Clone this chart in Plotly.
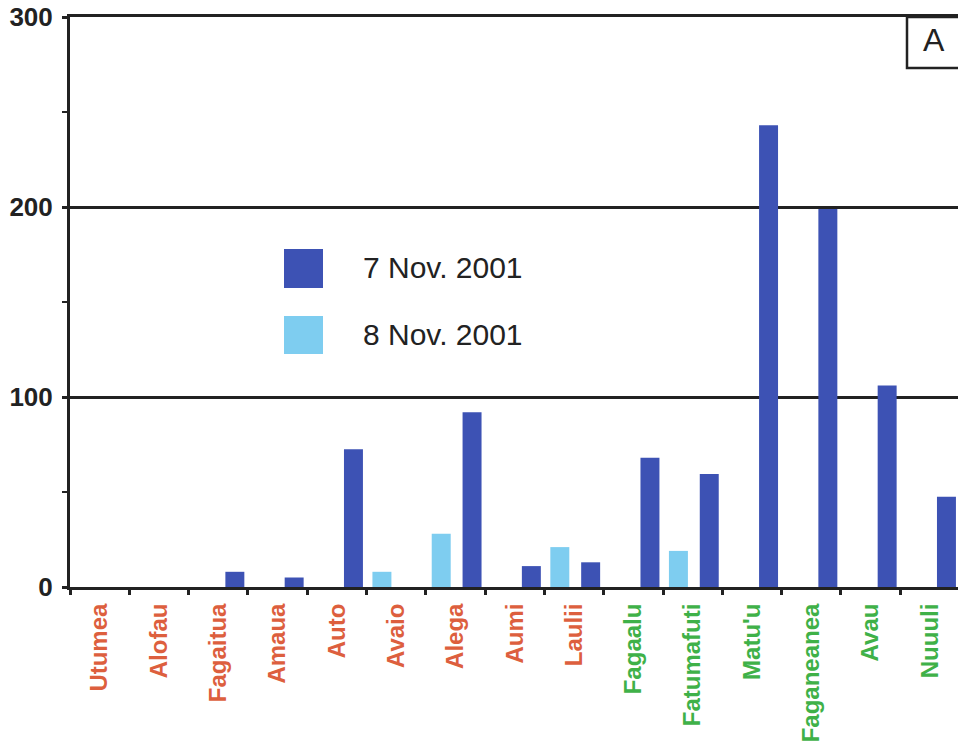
import plotly.graph_objects as go

# Villages along the shore, west side (red labels) then east side (green labels)
villages = ["Utumea", "Alofau", "Fagaitua", "Amaua", "Auto", "Avaio", "Alega",
            "Aumi", "Laulii", "Fagaalu", "Fatumafuti", "Matu'u", "Faganeanea",
            "Avau", "Nuuuli"]
label_colors = ["#dd5f3e"] * 9 + ["#3fb148"] * 6

nov7 = [0, 0, 8, 5, 72.5, 0, 92, 11, 13, 68, 59.5, 243, 199, 106, 47.5]
nov8 = [0, 0, 0, 0, 0, 8, 28, 0, 21, 0, 19, 0, 0, 0, 0]

series_names = ["7 Nov. 2001", "8 Nov. 2001"]
dark_blue = "#3d52b4"
light_blue = "#7ecdf0"

ytick_vals = [0, 100, 200, 300]

W, H = 958, 752
ML, MT, MB, MR = 70, 17, 165, 0
plot_w = W - ML - MR
slot_px = 59.3

fig = go.Figure()
fig.add_trace(go.Bar(x=villages, y=nov8, name=series_names[1],
                     marker=dict(color=light_blue, line=dict(width=0)),
                     width=0.32, offset=-0.40, showlegend=False))
fig.add_trace(go.Bar(x=villages, y=nov7, name=series_names[0],
                     marker=dict(color=dark_blue, line=dict(width=0)),
                     width=0.32, offset=0.12, showlegend=False))

ticktext = [f'<span style="color:{c}">{v}</span>' for v, c in zip(villages, label_colors)]

fig.update_layout(
    width=W, height=H,
    margin=dict(l=ML, r=MR, t=MT, b=MB, pad=0),
    plot_bgcolor="white", paper_bgcolor="white",
    barmode="group",
    font=dict(family="Liberation Sans", color="#222222"),
    xaxis=dict(
        type="category",
        range=[-0.5, -0.5 + plot_w / slot_px],
        tickmode="array", tickvals=villages, ticktext=ticktext,
        tickangle=-90,
        tickfont=dict(family="Liberation Sans", size=24, weight="bold"),
        ticklabelstandoff=4,
        tickson="boundaries", ticks="outside", ticklen=5, tickwidth=2.5,
        tickcolor="#222222",
        showline=True, linecolor="#222222", linewidth=3, mirror=True,
        showgrid=False, zeroline=False, fixedrange=True,
    ),
    yaxis=dict(
        range=[0, 300],
        tickmode="array", tickvals=ytick_vals,
        ticktext=[str(v) for v in ytick_vals],
        tickfont=dict(family="Liberation Sans", size=26, weight="bold", color="#222222"),
        ticks="outside", ticklen=5, tickwidth=2.5, tickcolor="#222222",
        ticklabelstandoff=4,
        minor=dict(tickvals=[50, 150, 250], ticks="outside", ticklen=5,
                   tickwidth=2, tickcolor="#222222", showgrid=False),
        showline=True, linecolor="#222222", linewidth=3,
        showgrid=True, gridcolor="#222222", gridwidth=2.5,
        zeroline=False, fixedrange=True,
    ),
)

def px_x(px):
    return (px - ML) / plot_w

def px_y(py):
    return (H - MB - py) / (H - MT - MB)

# Legend drawn as large swatches with text
legend_rows = [(series_names[0], dark_blue, 249, 288, 267),
               (series_names[1], light_blue, 316, 354, 334)]
for name, color, y0, y1, yc in legend_rows:
    fig.add_shape(type="rect", xref="paper", yref="paper",
                  x0=px_x(284), x1=px_x(323), y0=px_y(y1), y1=px_y(y0),
                  fillcolor=color, line=dict(width=0))
    fig.add_annotation(xref="paper", yref="paper", x=px_x(361), y=px_y(yc),
                       text=name, showarrow=False, xanchor="left", yanchor="middle",
                       font=dict(family="Liberation Sans", size=30, color="#222222"))

# Panel letter box in the upper right corner
fig.add_shape(type="rect", xref="paper", yref="paper",
              x0=px_x(907), x1=px_x(975), y0=px_y(68), y1=px_y(17),
              fillcolor="white", line=dict(color="#222222", width=2.5))
fig.add_annotation(xref="paper", yref="paper", x=px_x(934), y=px_y(40),
                   text="A", showarrow=False, xanchor="center", yanchor="middle",
                   font=dict(family="Liberation Sans", size=32, color="#222222"))

fig.write_html("out.html")
